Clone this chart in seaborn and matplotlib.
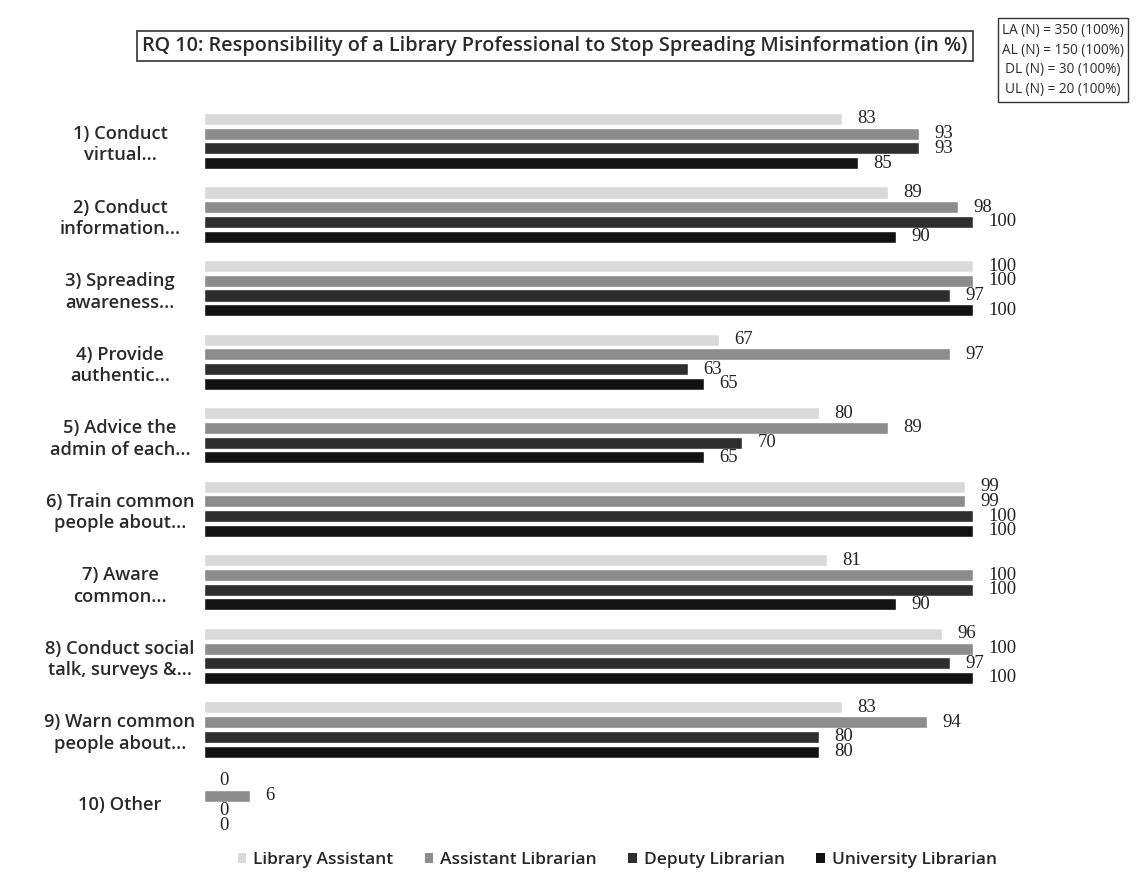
import numpy as np
import pandas as pd
import matplotlib
matplotlib.use("Agg")
import matplotlib.pyplot as plt
import seaborn as sns
from matplotlib.patches import Patch

categories = [
    "1) Conduct\nvirtual...",
    "2) Conduct\ninformation...",
    "3) Spreading\nawareness...",
    "4) Provide\nauthentic...",
    "5) Advice the\nadmin of each...",
    "6) Train common\npeople about...",
    "7) Aware\ncommon...",
    "8) Conduct social\ntalk, surveys &...",
    "9) Warn common\npeople about...",
    "10) Other",
]
series_names = ["Library Assistant", "Assistant Librarian", "Deputy Librarian", "University Librarian"]
library_assistant = [83, 89, 100, 67, 80, 99, 81, 96, 83, 0]
assistant_librarian = [93, 98, 100, 97, 89, 99, 100, 100, 94, 6]
deputy_librarian = [93, 100, 97, 63, 70, 100, 100, 97, 80, 0]
university_librarian = [85, 90, 100, 65, 65, 100, 90, 100, 80, 0]
title = "RQ 10: Responsibility of a Library Professional to Stop Spreading Misinformation (in %)"
n_box_lines = ["LA (N) = 350 (100%)", "AL (N) = 150 (100%)", "DL (N) = 30 (100%)", "UL (N) = 20 (100%)"]

colors = ["#d9d9d9", "#8c8c8c", "#2e2e2e", "#121212"]

rows = []
for name, vals in zip(series_names, [library_assistant, assistant_librarian, deputy_librarian, university_librarian]):
    for c, v in zip(categories, vals):
        rows.append({"category": c, "series": name, "value": v})
df = pd.DataFrame(rows)

sns.set_theme(style="white")
plt.rcParams["font.family"] = ["Open Sans", "DejaVu Sans"]

W, H = 1147, 880
fig = plt.figure(figsize=(W / 100, H / 100), dpi=100)
ax_left, ax_right = 204, 1060
ax_top, ax_bottom = 100, 845
ax = fig.add_axes([ax_left / W, 1 - ax_bottom / H, (ax_right - ax_left) / W, (ax_bottom - ax_top) / H])

sns.barplot(data=df, y="category", x="value", hue="series", order=categories,
            hue_order=series_names, palette=colors, orient="h", width=0.8, gap=0.18,
            ax=ax, legend=False, saturation=1)

px_per_unit = (973 - 204) / 100.0
ax.set_xlim(0, (ax_right - ax_left) / px_per_unit)
g_sp = 73.56
ax.set_ylim((ax_bottom - 141) / g_sp, (ax_top - 141) / g_sp)

for cont in ax.containers:
    ax.bar_label(cont, padding=11, fontsize=13.5, family="Liberation Serif", color="#222222")

for s in ax.spines.values():
    s.set_visible(False)
ax.set_xticks([])
ax.set_xlabel("")
ax.set_ylabel("")
ax.tick_params(axis="y", length=0, pad=(204 - 120) * 0.72)
for lbl in ax.get_yticklabels():
    lbl.set_horizontalalignment("center")
    lbl.set_multialignment("center")
    lbl.set_fontsize(13.2)
    lbl.set_fontweight("semibold")
    lbl.set_color("#2a2a2a")
    lbl.set_linespacing(1.25)

fig.text(555 / W, 1 - 46 / H, title, ha="center", va="center", fontsize=14.3, color="#2a2a2a",
         fontweight="semibold",
         bbox=dict(boxstyle="square,pad=0.25", fc="white", ec="#333333", lw=1.2))

fig.text(1063 / W, 1 - 60 / H, "\n".join(n_box_lines), ha="center", va="center", fontsize=9.8,
         color="#2a2a2a", linespacing=1.45,
         bbox=dict(boxstyle="square,pad=0.3", fc="white", ec="#333333", lw=1.0))

handles = [Patch(facecolor=c, edgecolor="none") for c in colors]
fig.legend(handles, series_names, loc="center", bbox_to_anchor=(617 / W, 1 - 860 / H), ncol=4,
           frameon=False, handlelength=0.5, handleheight=0.5, columnspacing=1.8,
           handletextpad=0.4, prop={"weight": "semibold", "size": 12.5})

fig.savefig("out.png", dpi=100)
